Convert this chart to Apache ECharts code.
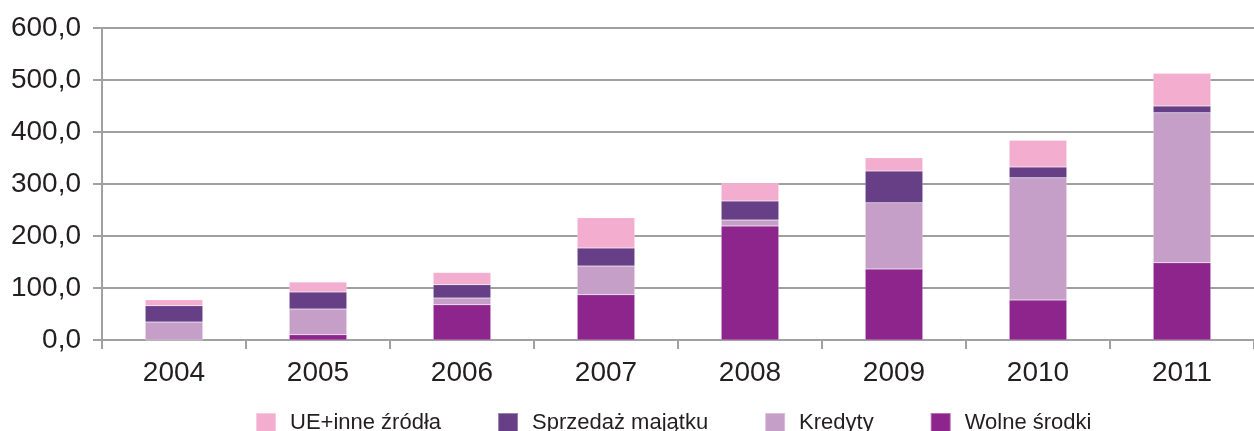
<!DOCTYPE html>
<html>
<head>
<meta charset="utf-8">
<script src="https://cdn.jsdelivr.net/npm/echarts@6/dist/echarts.min.js"></script>
<style>
  html, body { margin: 0; padding: 0; background: #fff; }
  #chart { width: 1254px; height: 431px; }
</style>
</head>
<body>
<div id="chart"></div>
<script>
// Lata
const years = ['2004', '2005', '2006', '2007', '2008', '2009', '2010', '2011'];

// Źródła finansowania (stos od dołu do góry)
const wolneSrodki = [0, 10.2, 67.9, 87.2, 219.2, 136.5, 76.9, 148.6];
const kredyty = [34.6, 49.4, 12.9, 55.1, 11.6, 127.5, 235.1, 288.4];
const sprzedazMajatku = [31.4, 32.7, 25.6, 34.6, 36.5, 61.0, 20.7, 13.0];
const ueInneZrodla = [11.5, 19.2, 23.6, 58.3, 34.6, 25.6, 51.3, 62.8];

const seriesNames = ['Wolne środki', 'Kredyty', 'Sprzedaż majątku', 'UE+inne źródła'];
const legendOrder = ['UE+inne źródła', 'Sprzedaż majątku', 'Kredyty', 'Wolne środki'];
const colors = ['#8e258d', '#c59fc8', '#673f86', '#f3aecf'];
const seriesData = [wolneSrodki, kredyty, sprzedazMajatku, ueInneZrodla];

const font = '"Liberation Sans", Arial, Helvetica, sans-serif';
const gridColor = '#a0a0a2';

const chart = echarts.init(document.getElementById('chart'), null, { renderer: 'canvas' });

chart.setOption({
  animation: false,
  backgroundColor: '#ffffff',
  grid: { left: 102, top: 28, width: 1155, height: 312, containLabel: false },
  legend: {
    data: legendOrder,
    left: 250,
    top: 407,
    itemWidth: 20,
    itemHeight: 20,
    itemGap: 56,
    icon: 'rect',
    textStyle: { fontFamily: font, fontSize: 22, color: '#231f20', padding: [0, 0, 0, 9] }
  },
  xAxis: {
    type: 'category',
    data: years,
    boundaryGap: true,
    axisLine: { show: true, lineStyle: { color: gridColor, width: 2 } },
    axisTick: { show: true, length: 9, alignWithLabel: false, lineStyle: { color: gridColor, width: 2 } },
    axisLabel: { fontFamily: font, fontSize: 28, color: '#231f20', margin: 19 },
    splitLine: { show: false }
  },
  yAxis: {
    type: 'value',
    min: 0,
    max: 600,
    interval: 100,
    axisLine: { show: true, lineStyle: { color: gridColor, width: 2 } },
    axisTick: { show: true, length: 9, lineStyle: { color: gridColor, width: 2 } },
    axisLabel: {
      fontFamily: font, fontSize: 28, color: '#231f20', margin: 21,
      formatter: v => v.toFixed(1).replace('.', ',')
    },
    splitLine: { show: true, lineStyle: { color: gridColor, width: 2 } }
  },
  series: seriesNames.map((name, i) => ({
    name,
    type: 'bar',
    stack: 'total',
    data: seriesData[i],
    barWidth: '40%',
    itemStyle: { color: colors[i], borderColor: 'rgba(255,255,255,0.35)', borderWidth: 0.5 }
  }))
});
</script>
</body>
</html>
